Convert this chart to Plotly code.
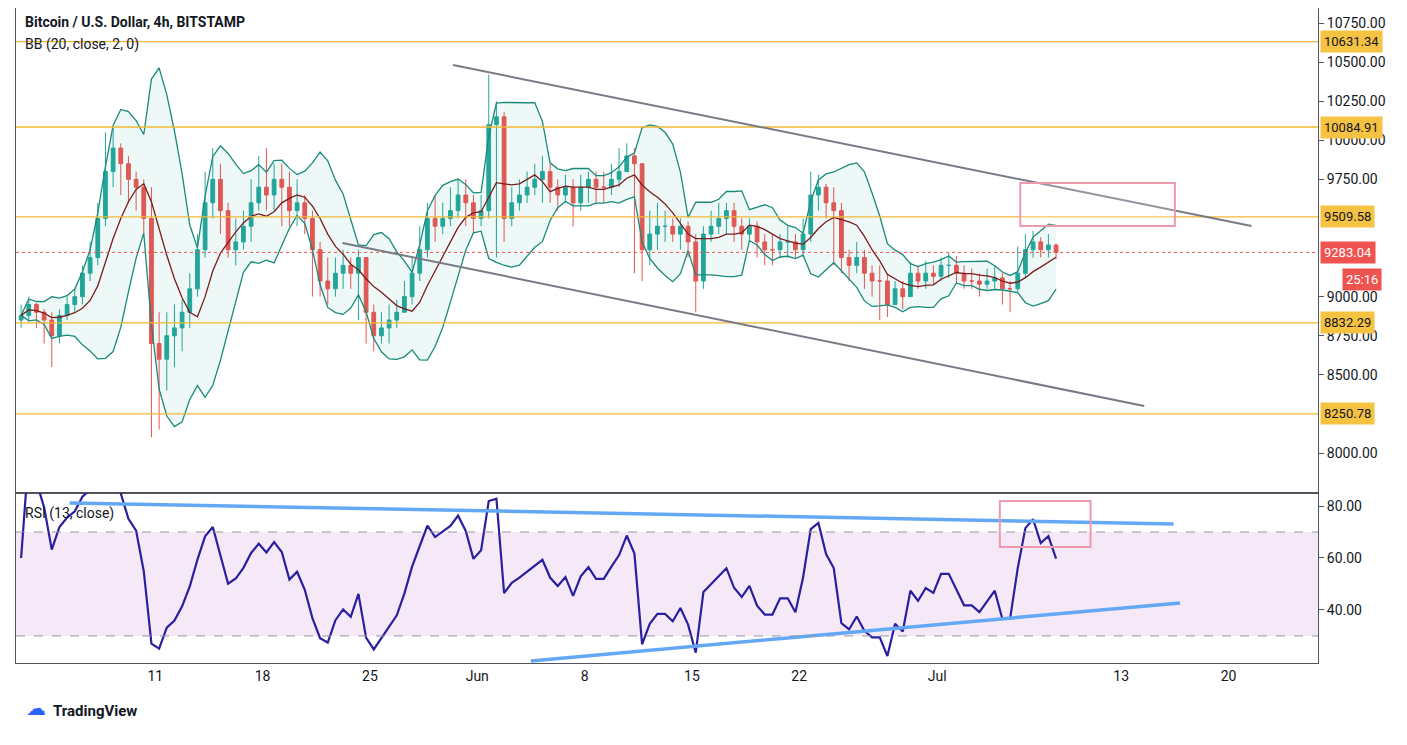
import plotly.graph_objects as go
from plotly.subplots import make_subplots
import pandas as pd
import numpy as np

# 12h bars starting 2020-05-02
closes = [8880,8950, 8900,8850, 8750,8880, 8950,9000, 9150,9250, 9500,9800, 9950,9850, 9750,9700, 9500,8700, 8600,8750,
          8800,8900, 9050,9300, 9600,9750, 9550,9300, 9350,9450, 9600,9700, 9650,9750, 9700,9550, 9600,9500, 9300,9100,
          9050,9150, 9200,9150, 9250,8900, 8750,8800, 8850,8900, 9000,9150, 9300,9500, 9450,9500, 9550,9650, 9600,9500,
          9550,10100, 10150,9500, 9600,9650, 9700,9750, 9800,9700, 9650,9700, 9600,9700, 9750,9700, 9700,9750, 9800,9900,
          9850,9300, 9400,9450, 9450,9400, 9450,9350, 9100,9400, 9450,9500, 9550,9450, 9400,9450, 9350,9300, 9300,9350,
          9350,9300, 9400,9650, 9700,9600, 9550,9250, 9200,9250, 9150,9100, 9100,8950, 9050,9000, 9150,9100, 9150,9130,
          9200,9200, 9150,9100, 9100,9080, 9100,9120, 9050,9050, 9150,9300, 9350,9300, 9330,9283]
highs = [8950,9000, 8960,8920, 8900,8920, 9000,9050, 9200,9350, 9600,10050, 10080,9980, 9900,9800, 9750,9700, 8900,8900,
         8950,8980, 9150,9400, 9800,9950, 9850,9600, 9500,9550, 9750,9900, 9950,9850, 9850,9800, 9750,9650, 9550,9350,
         9250,9250, 9300,9250, 9300,9250, 8950,8900, 8950,8980, 9100,9250, 9450,9600, 9650,9600, 9700,9750, 9750,9650,
         9650,10420, 10250,10180, 9700,9750, 9800,9850, 9900,9850, 9750,9780, 9750,9780, 9800,9800, 9800,9850, 9950,9980,
         9950,9850, 9550,9600, 9550,9500, 9500,9480, 9400,9450, 9550,9600, 9600,9600, 9500,9500, 9480,9400, 9400,9400,
         9450,9400, 9500,9800, 9780,9720, 9700,9600, 9300,9350, 9300,9200, 9200,9150, 9100,9100, 9220,9200, 9230,9200,
         9250,9280, 9260,9200, 9180,9150, 9180,9200, 9150,9100, 9320,9400, 9420,9380, 9400,9340]
lows = [8800,8850, 8800,8700, 8550,8700, 8850,8900, 8950,9100, 9200,9450, 9700,9650, 9600,9550, 9400,8100, 8150,8400,
        8550,8650, 8800,9000, 9250,9500, 9400,9250, 9200,9300, 9350,9550, 9550,9550, 9450,9450, 9450,9400, 9000,9000,
        8950,9000, 9050,9050, 8850,8700, 8650,8700, 8700,8800, 8900,8950, 9100,9250, 9350,9400, 9450,9500, 9450,9400,
        9450,9500, 9250,9350, 9450,9550, 9600,9650, 9600,9600, 9550,9600, 9450,9550, 9600,9600, 9600,9650, 9700,9800,
        9150,9100, 9200,9300, 9350,9350, 9300,9250, 8900,9050, 9350,9400, 9400,9350, 9300,9350, 9250,9200, 9200,9250,
        9250,9250, 9250,9350, 9550,9500, 9200,9150, 9100,9150, 9050,9000, 8850,8870, 8950,8920, 9000,9050, 9050,9080,
        9100,9120, 9080,9050, 9050,9000, 9050,9050, 8950,8900, 9030,9120, 9250,9250, 9250,9240]
first_open = 8850

levels = [10631.34, 10084.91, 9509.58, 8832.29, 8250.78]
last_price = 9283.04
upper_chan = [("2020-05-30 10:00", 10481), ("2020-07-21 12:00", 9452)]
lower_chan = [("2020-05-23 05:00", 9343), ("2020-07-14 12:00", 8301)]
rsi_upper = [("2020-05-05 10:00", 81.2), ("2020-07-16 10:00", 73.1)]
rsi_lower = [("2020-06-04 12:00", 20.4), ("2020-07-16 20:00", 42.7)]
tick_dates = ["2020-05-11","2020-05-18","2020-05-25","2020-06-01","2020-06-08","2020-06-15","2020-06-22","2020-07-01","2020-07-13","2020-07-20"]
tick_text = ["11","18","25","Jun","8","15","22","Jul","13","20"]

dates = pd.date_range("2020-05-02 06:00", periods=len(closes), freq="12h")
c = pd.Series(closes, dtype=float)
o = pd.Series([first_open] + closes[:-1], dtype=float)
h = np.maximum(np.array(highs, float), np.maximum(o, c))
l = np.minimum(np.array(lows, float), np.minimum(o, c))

basis = c.rolling(7, min_periods=1).mean()
sd = c.rolling(7, min_periods=1).std(ddof=0)
ub, lb = basis + 2 * sd, basis - 2 * sd
d = c.diff()
up = d.clip(lower=0).ewm(alpha=1/7, adjust=False).mean()
dn = (-d.clip(upper=0)).ewm(alpha=1/7, adjust=False).mean()
rsi = 100 - 100 / (1 + up / dn.replace(0, 1e-9))
rsi.iloc[0] = 60

fig = make_subplots(rows=2, cols=1, shared_xaxes=True, vertical_spacing=0, row_heights=[0.7405, 0.2595])
fig.add_trace(go.Scatter(x=dates, y=ub, line=dict(color="#1a8a7a", width=1.3), hoverinfo="skip"), 1, 1)
fig.add_trace(go.Scatter(x=dates, y=lb, line=dict(color="#1a8a7a", width=1.3), fill="tonexty",
                         fillcolor="rgba(0,150,136,0.07)", hoverinfo="skip"), 1, 1)
fig.add_trace(go.Scatter(x=dates, y=basis, line=dict(color="#7b1c1c", width=1.3), hoverinfo="skip"), 1, 1)
fig.add_trace(go.Candlestick(x=dates, open=o, high=h, low=l, close=c,
                             increasing=dict(line=dict(color="#26a69a", width=1), fillcolor="#26a69a"),
                             decreasing=dict(line=dict(color="#ef5350", width=1), fillcolor="#ef5350"),
                             whiskerwidth=0), 1, 1)
fig.add_trace(go.Scatter(x=dates, y=rsi, line=dict(color="#2a1f9e", width=2.2), hoverinfo="skip"), 2, 1)

for lv in levels:
    fig.add_hline(y=lv, line=dict(color="#f0b935", width=1.3), row=1, col=1)
    fig.add_annotation(x=1, xref="paper", y=lv, yref="y", text=f"{lv:.2f}", showarrow=False, xanchor="left",
                       bgcolor="#f5c242", font=dict(size=13, color="#131722"), borderpad=3, xshift=2)
fig.add_hline(y=last_price, line=dict(color="#ef5350", width=1, dash="dot"), row=1, col=1)
fig.add_annotation(x=1, xref="paper", y=last_price, yref="y", text=f"{last_price:.2f}", showarrow=False, xanchor="left",
                   bgcolor="#ef5350", font=dict(size=13, color="white"), borderpad=3, xshift=2)
fig.add_annotation(x=1, xref="paper", y=last_price, yref="y", text="25:16", showarrow=False, xanchor="left",
                   bgcolor="#ef5350", font=dict(size=13, color="white"), borderpad=3, xshift=24, yshift=-27)

for (x0, y0), (x1, y1) in [upper_chan, lower_chan]:
    fig.add_shape(type="line", x0=x0, y0=y0, x1=x1, y1=y1, line=dict(color="#787b86", width=2), xref="x", yref="y")
for (x0, y0), (x1, y1) in [rsi_upper, rsi_lower]:
    fig.add_shape(type="line", x0=x0, y0=y0, x1=x1, y1=y1, line=dict(color="#64a8f5", width=3.5), xref="x2", yref="y2")
fig.add_shape(type="rect", x0="2020-07-06 10:00", x1="2020-07-16 12:00", y0=9452, y1=9727,
              line=dict(color="#ee9aae", width=2), fillcolor="rgba(255,255,255,0.2)", xref="x", yref="y")
fig.add_shape(type="rect", x0="2020-07-05 02:00", x1="2020-07-11 00:00", y0=64.2, y1=81.9,
              line=dict(color="#ee9aae", width=2), fillcolor="rgba(255,255,255,0)", xref="x2", yref="y2")
fig.add_shape(type="rect", x0=0, x1=1, xref="paper", y0=30, y1=70, yref="y2",
              fillcolor="rgba(156,39,176,0.1)", line=dict(width=0), layer="below")
for v in (30, 70):
    fig.add_shape(type="line", x0=0, x1=1, xref="paper", y0=v, y1=v, yref="y2",
                  line=dict(color="#9598a1", width=1, dash="dash"))

fig.add_annotation(x=0.005, xref="paper", y=1, yref="paper", text="<b>Bitcoin / U.S. Dollar, 4h, BITSTAMP</b>",
                   showarrow=False, xanchor="left", yanchor="top", font=dict(size=14, color="#131722"), yshift=-4)
fig.add_annotation(x=0.005, xref="paper", y=1, yref="paper", text="BB (20, close, 2, 0)",
                   showarrow=False, xanchor="left", yanchor="top", font=dict(size=14, color="#131722"), yshift=-26)
fig.add_annotation(x=0.005, xref="paper", y=0.2595, yref="paper", text="RSI (13, close)",
                   showarrow=False, xanchor="left", yanchor="top", font=dict(size=14, color="#131722"), yshift=-10)
fig.add_annotation(x=0.0, xref="paper", y=-0.09, yref="paper", text="<b>TradingView</b>",
                   showarrow=False, xanchor="left", font=dict(size=15, color="#131722"), xshift=35)
fig.add_annotation(x=0.0, xref="paper", y=-0.09, yref="paper", text="☁",
                   showarrow=False, xanchor="left", font=dict(size=20, color="#2962ff"), xshift=8)

fig.update_layout(width=1407, height=745, margin=dict(l=8, r=97, t=0, b=90), showlegend=False,
                  plot_bgcolor="white", paper_bgcolor="white", font=dict(family="Roboto, sans-serif", color="#131722"))
rng = ["2020-05-01 22:00", "2020-07-25 20:00"]
fig.update_xaxes(range=rng, showgrid=False, rangeslider_visible=False, showline=True, linecolor="#50535e", mirror=True,
                 tickvals=tick_dates, ticktext=tick_text, tickfont=dict(size=14), ticks="")
fig.update_xaxes(showticklabels=False, row=1, col=1)
fig.update_yaxes(side="right", showgrid=False, showline=True, linecolor="#50535e", mirror=True, ticks="outside",
                 ticklen=5, tickcolor="#50535e", tickfont=dict(size=14))
fig.update_yaxes(range=[7744, 10846], tickvals=[8000,8500,8750,9000,9750,10000,10250,10500,10750],
                 tickformat=".2f", row=1, col=1)
fig.update_yaxes(range=[19.6, 85], tickvals=[40, 60, 80], tickformat=".2f", row=2, col=1)
fig.write_html("out.html")
